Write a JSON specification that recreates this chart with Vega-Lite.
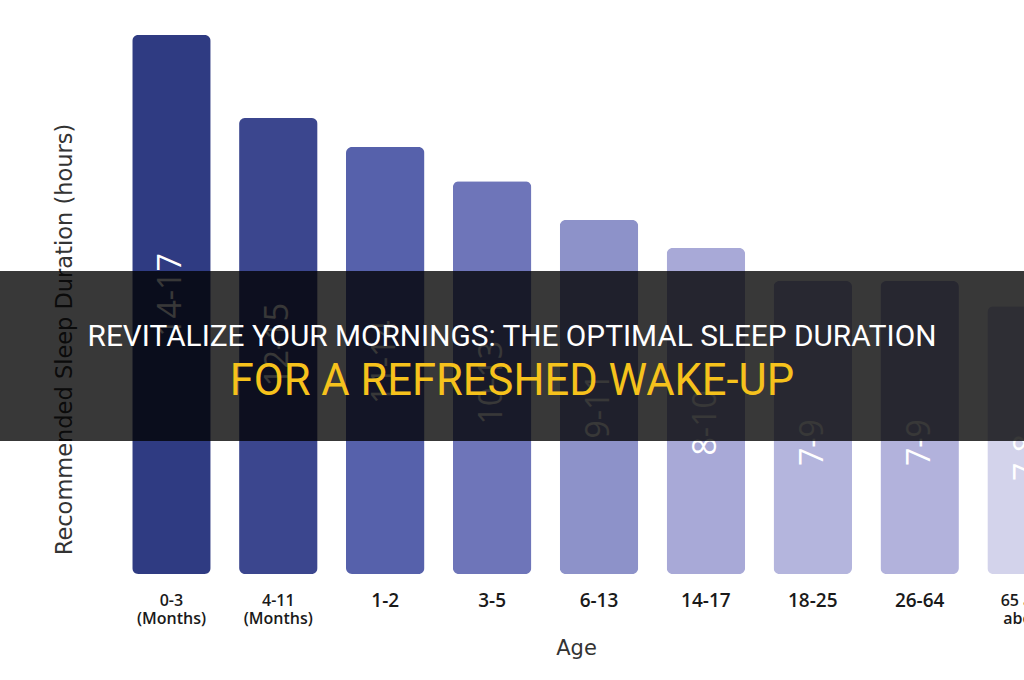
{
  "$schema": "https://vega.github.io/schema/vega-lite/v6.json",
  "width": 1024,
  "height": 574,
  "autosize": "none",
  "padding": {"left": 0, "top": 0, "right": 0, "bottom": 106},
  "background": "#ffffff",
  "title": {
    "text": "REVITALIZE YOUR MORNINGS: THE OPTIMAL SLEEP DURATION",
    "subtitle": "FOR A REFRESHED WAKE-UP",
    "orient": "top",
    "anchor": "middle",
    "frame": "group",
    "offset": -403,
    "font": "Roboto",
    "fontSize": 29.8,
    "fontWeight": "normal",
    "color": "#ffffff",
    "subtitleFont": "Roboto",
    "subtitleFontSize": 43.5,
    "subtitleColor": "#f6c21c",
    "subtitlePadding": 9
  },
  "data": {
    "values": [
      {"age": "0-3 (Months)", "value": 16.9, "hours": "14-17"},
      {"age": "4-11 (Months)", "value": 14.3, "hours": "12-15"},
      {"age": "1-2", "value": 13.39, "hours": "11-14"},
      {"age": "3-5", "value": 12.32, "hours": "10-13"},
      {"age": "6-13", "value": 11.1, "hours": "9-11"},
      {"age": "14-17", "value": 10.22, "hours": "8-10"},
      {"age": "18-25", "value": 9.19, "hours": "7-9"},
      {"age": "26-64", "value": 9.19, "hours": "7-9"},
      {"age": "65 and above", "value": 8.4, "hours": "7-8"}
    ]
  },
  "layer": [
    {
      "mark": {"type": "bar", "cornerRadius": 6},
      "encoding": {
        "x": {
          "field": "age",
          "type": "nominal",
          "sort": null,
          "scale": {"range": [118, 1080], "paddingInner": 0.266, "paddingOuter": 0.133},
          "axis": {
            "title": "Age",
            "domain": false,
            "ticks": false,
            "grid": false,
            "labelAngle": 0,
            "labelPadding": 26,
            "labelBaseline": "middle",
            "labelFont": "Open Sans",
            "labelFontWeight": 600,
            "labelColor": "#1a1a1a",
            "labelFontSize": {"condition": {"test": "length(datum.value) > 6", "value": 16}, "value": 19},
            "labelLineHeight": 18,
            "labelOverlap": false,
            "labelLimit": 0,
            "labelExpr": "indexof(datum.value, 'Months') >= 0 ? split(datum.value, ' ') : (datum.value == '65 and above' ? ['65 and', 'above'] : datum.label)",
            "titleFont": "DejaVu Sans",
            "titleFontSize": 21,
            "titleFontWeight": "normal",
            "titleColor": "#333333",
            "titleX": 576,
            "titleY": 80,
            "titleAlign": "center",
            "titleBaseline": "alphabetic"
          }
        },
        "y": {
          "field": "value",
          "type": "quantitative",
          "scale": {"domain": [0, 18]},
          "axis": {
            "title": "Recommended Sleep Duration (hours)",
            "domain": false,
            "ticks": false,
            "labels": false,
            "grid": false,
            "titleFont": "DejaVu Sans",
            "titleFontSize": 22.5,
            "titleFontWeight": "normal",
            "titleColor": "#333333",
            "titleX": 64,
            "titleY": 339,
            "titleAngle": 270,
            "titleAlign": "center",
            "titleBaseline": "middle"
          }
        },
        "color": {
          "field": "age",
          "type": "nominal",
          "sort": null,
          "scale": {
            "domain": ["0-3 (Months)", "4-11 (Months)", "1-2", "3-5", "6-13", "14-17", "18-25", "26-64", "65 and above"],
            "range": ["#2f3b82", "#3b468e", "#5661ab", "#6e75b9", "#8d92c9", "#a8a9d7", "#b4b5dd", "#b2b2dc", "#d3d3eb"]
          },
          "legend": null
        }
      }
    },
    {
      "mark": {"type": "text", "angle": 270, "font": "Open Sans", "fontSize": 32, "color": "#ffffff", "align": "center", "baseline": "middle"},
      "encoding": {
        "x": {"field": "age", "type": "nominal", "sort": null},
        "y": {"field": "value", "type": "quantitative", "scale": {"domain": [2.32, 32.32], "zero": false}, "axis": null},
        "text": {"field": "hours"}
      }
    },
    {
      "data": {"values": [{}]},
      "mark": {"type": "rect", "color": "#000000", "opacity": 0.78},
      "encoding": {
        "y": {"datum": 9.5, "type": "quantitative", "scale": {"domain": [0, 18]}, "axis": null},
        "y2": {"datum": 4.17}
      }
    }
  ],
  "resolve": {"scale": {"y": "independent"}},
  "config": {"view": {"stroke": null}}
}
